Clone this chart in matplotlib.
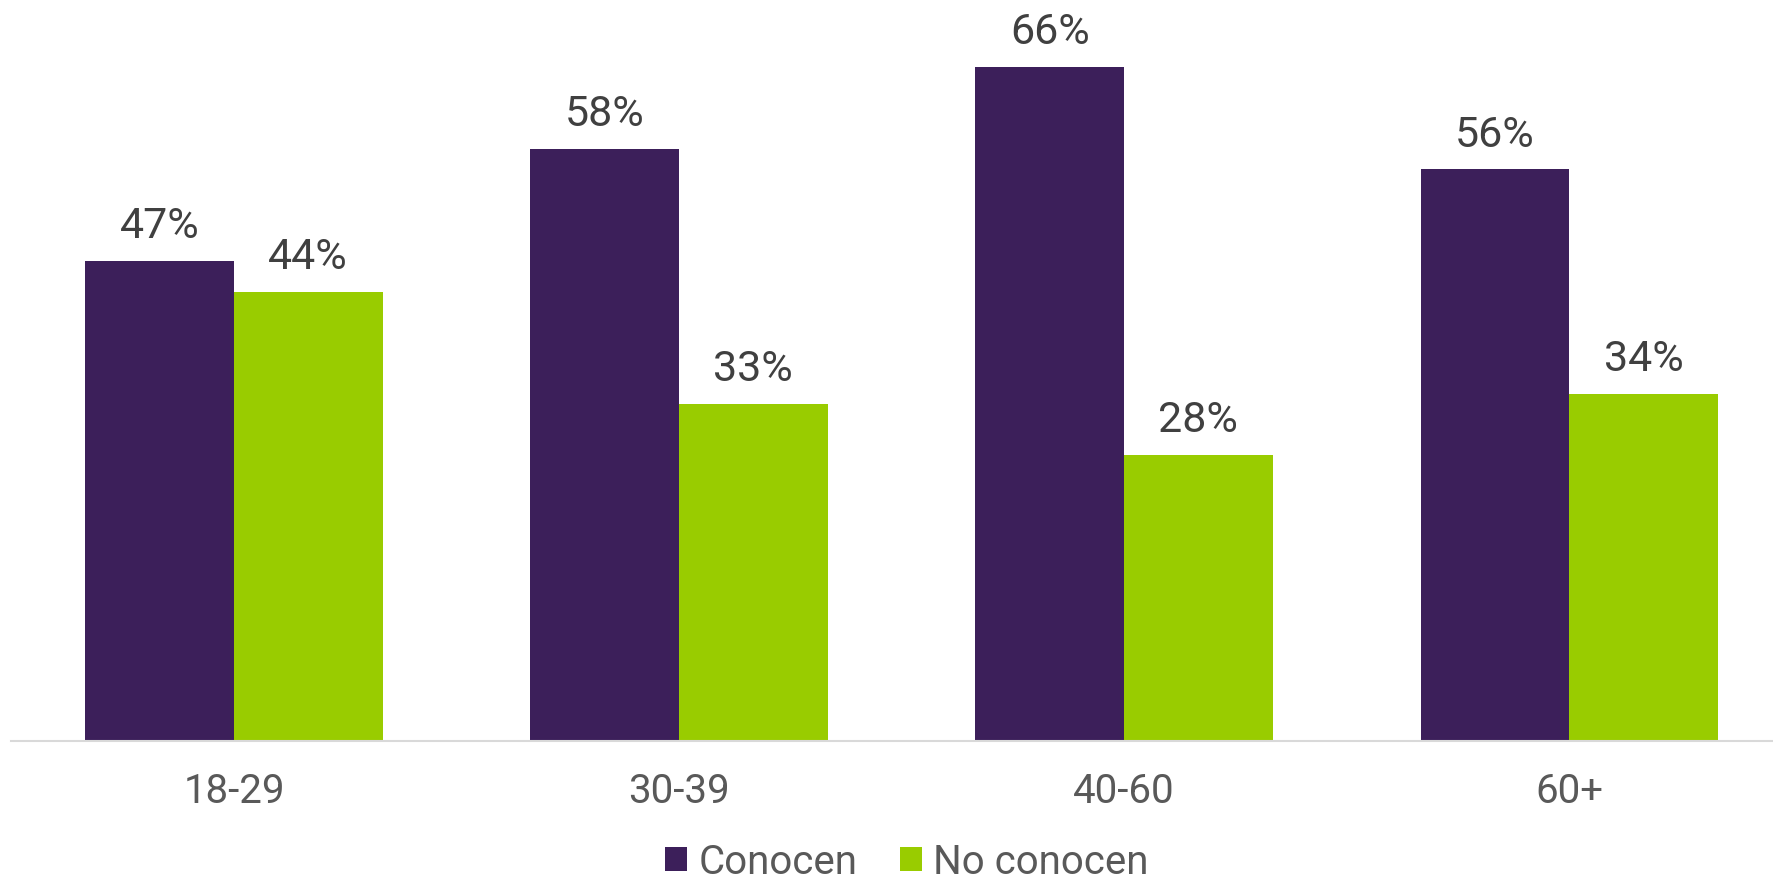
import matplotlib.pyplot as plt
import numpy as np

plt.rcParams['font.family'] = ['Roboto', 'DejaVu Sans']

categories = ['18-29', '30-39', '40-60', '60+']
conocen = [47, 58, 66, 56]
noConocen = [44, 33, 28, 34]
seriesNames = ['Conocen', 'No conocen']

purple = '#3C1F5A'
green = '#99CC00'

fig = plt.figure(figsize=(17.73, 8.77), dpi=100)
ax = fig.add_axes([11 / 1773, 136 / 877, 1762 / 1773, 741 / 877])

x = np.arange(len(categories))
barWidth = 0.334

barsA = ax.bar(x - barWidth / 2, conocen, barWidth, color=purple, label=seriesNames[0])
barsB = ax.bar(x + barWidth / 2, noConocen, barWidth, color=green, label=seriesNames[1])

for bars in (barsA, barsB):
    for bar in bars:
        h = bar.get_height()
        ax.annotate(f'{h:.0f}%', (bar.get_x() + bar.get_width() / 2, h),
                    xytext=(0, 16.5), textcoords='offset points',
                    ha='center', va='baseline', fontsize=31, color='#404040')

ax.set_xlim(-0.501, 3.458)
ax.set_ylim(0, 72.6)
ax.set_xticks(x)
ax.set_xticklabels(categories, fontsize=29, color='#595959')
ax.tick_params(axis='x', length=0, pad=22)
ax.set_yticks([])

for side in ['top', 'right', 'left']:
    ax.spines[side].set_visible(False)
ax.spines['bottom'].set_color('#D9D9D9')
ax.spines['bottom'].set_linewidth(1.5)

leg = fig.legend(loc='center', bbox_to_anchor=(907 / 1773, 1 - 862 / 877), ncol=2,
                 frameon=False, fontsize=29, handlelength=0.55, handleheight=0.55,
                 handletextpad=0.27, columnspacing=1.07, borderpad=0)
for t in leg.get_texts():
    t.set_color('#595959')

fig.savefig('out.png', dpi=100)
